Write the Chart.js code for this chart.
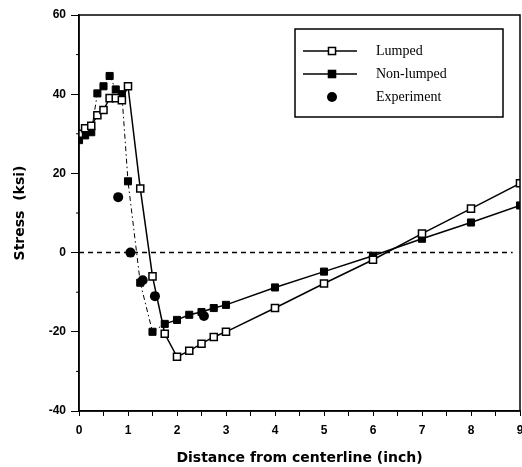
<!DOCTYPE html>
<html>
<head>
<meta charset="utf-8">
<script src="https://cdn.jsdelivr.net/npm/chart.js@4/dist/chart.umd.min.js"></script>
<style>
  html, body { margin: 0; padding: 0; background: #fff; overflow: hidden; }
  #wrap { width: 522px; height: 467px; position: relative; }
</style>
</head>
<body>
<div id="wrap"><canvas id="stressChart"></canvas></div>
<script>
// values
const xModel = [0, 0.125, 0.25, 0.375, 0.5, 0.625, 0.75, 0.875, 1, 1.25, 1.5, 1.75,
                2, 2.25, 2.5, 2.75, 3, 4, 5, 6, 7, 8, 9];
const lumped = [30, 31.4, 32, 34.7, 36, 39, 39, 38.5, 42, 16.2, -6, -20.5,
                -26.3, -24.8, -23, -21.3, -20, -14, -7.8, -1.8, 4.8, 11.1, 17.5];
const nonLumped = [28.4, 29.6, 30.4, 40.2, 42, 44.6, 41.2, 40, 18, -7.6, -20, -18,
                   -17, -15.7, -15, -14, -13.2, -8.8, -4.8, -0.8, 3.5, 7.6, 11.9];
const xExperiment = [0.8, 1.05, 1.3, 1.55, 2.55];
const experiment = [14, 0, -7, -11, -16];
const xZero = [0, 8.85];
const zeroLine = [0, 0];

const toPoints = (xs, ys) => xs.map((x, i) => ({ x: x, y: ys[i] }));

// frame round the plot + short minor ticks on the stress axis
const framePlugin = {
    id: 'frame',
    afterDraw(chart) {
        const { ctx, chartArea: a, scales } = chart;
        ctx.save();
        ctx.strokeStyle = '#000';
        ctx.lineWidth = 1.5;
        ctx.strokeRect(a.left, a.top, a.right - a.left, a.bottom - a.top);
        ctx.lineWidth = 1;
        scales.y.ticks.forEach(t => {
            if (t.value % 20 !== 0) {
                const py = scales.y.getPixelForValue(t.value);
                ctx.beginPath();
                ctx.moveTo(a.left - 3, py);
                ctx.lineTo(a.left, py);
                ctx.stroke();
            }
        });
        ctx.restore();
    }
};

// boxed legend in the upper right
const boxLegend = {
    id: 'boxLegend',
    afterDraw(chart) {
        const ctx = chart.ctx;
        ctx.save();
        ctx.strokeStyle = '#000';
        ctx.lineWidth = 1.5;
        ctx.strokeRect(295, 29, 208, 88);
        ctx.font = '14px "Liberation Serif"';
        ctx.textBaseline = 'middle';
        ctx.fillStyle = '#000';
        const items = chart.data.datasets.filter(d => d.label);
        items.forEach((d, i) => {
            const y = 51 + i * 23;
            if (d.showLine !== false) {
                ctx.lineWidth = 1.5;
                ctx.beginPath();
                ctx.moveTo(303, y);
                ctx.lineTo(357, y);
                ctx.stroke();
            }
            ctx.lineWidth = 1.5;
            ctx.fillStyle = d.pointBackgroundColor;
            if (d.pointStyle === 'circle') {
                ctx.beginPath();
                ctx.arc(332, y, d.pointRadius, 0, Math.PI * 2);
                ctx.fill();
            } else {
                const s = d.pointRadius * Math.SQRT1_2;
                ctx.fillRect(332 - s, y - s, 2 * s, 2 * s);
                ctx.strokeRect(332 - s, y - s, 2 * s, 2 * s);
            }
            ctx.fillStyle = '#000';
            ctx.fillText(d.label, 376, y);
        });
        ctx.restore();
    }
};

const ctx = document.getElementById('stressChart').getContext('2d');

new Chart(ctx, {
    type: 'scatter',
    data: {
        datasets: [
            {
                label: 'Lumped',
                data: toPoints(xModel, lumped),
                showLine: true,
                borderColor: '#000',
                borderWidth: 1.5,
                tension: 0,
                pointStyle: 'rect',
                pointRadius: 5,
                pointBackgroundColor: '#fff',
                pointBorderColor: '#000',
                pointBorderWidth: 1.5
            },
            {
                label: 'Non-lumped',
                data: toPoints(xModel, nonLumped),
                showLine: true,
                borderColor: '#000',
                borderWidth: 1.5,
                tension: 0,
                segment: {
                    borderDash: c => c.p0.parsed.x < 1.6 ? [5, 3, 1.5, 3] : undefined,
                    borderWidth: c => c.p0.parsed.x < 1.6 ? 1 : 1.5
                },
                pointStyle: 'rect',
                pointRadius: 5,
                pointBackgroundColor: '#000',
                pointBorderColor: '#000',
                pointBorderWidth: 1
            },
            {
                label: 'Experiment',
                data: toPoints(xExperiment, experiment),
                showLine: false,
                pointStyle: 'circle',
                pointRadius: 5,
                pointBackgroundColor: '#000',
                pointBorderColor: '#000',
                pointBorderWidth: 0
            },
            {
                label: '',
                data: toPoints(xZero, zeroLine),
                showLine: true,
                borderColor: '#000',
                borderWidth: 1.5,
                borderDash: [5, 4],
                pointRadius: 0
            }
        ]
    },
    options: {
        responsive: true,
        maintainAspectRatio: false,
        animation: false,
        layout: {
            autoPadding: false,
            padding: { top: 15, right: 2, left: 0, bottom: 0 }
        },
        plugins: {
            legend: { display: false },
            tooltip: { enabled: false }
        },
        scales: {
            x: {
                type: 'linear',
                min: 0,
                max: 9,
                afterFit: s => { s.height = 56; s.paddingLeft = 0; s.paddingRight = 0; },
                border: { color: '#000', width: 1.5 },
                grid: {
                    drawOnChartArea: false,
                    tickLength: 5,
                    tickColor: '#000'
                },
                ticks: {
                    stepSize: 0.5,
                    autoSkip: false,
                    maxRotation: 0,
                    padding: 7,
                    color: '#000',
                    font: { family: '"Liberation Sans"', size: 12, weight: 'bold' },
                    callback: v => Number.isInteger(v) ? String(v) : ''
                },
                title: {
                    display: true,
                    text: 'Distance from centerline (inch)',
                    color: '#000',
                    font: { family: '"DejaVu Sans"', size: 14, weight: 'bold' },
                    padding: { top: 0, bottom: 0 }
                }
            },
            y: {
                min: -40,
                max: 60,
                afterFit: s => { s.width = 79; s.paddingTop = 0; s.paddingBottom = 0; },
                border: { color: '#000', width: 1.5 },
                grid: {
                    drawOnChartArea: false,
                    tickLength: 8,
                    tickColor: c => c.tick && c.tick.value % 20 === 0 ? '#000' : 'rgba(0,0,0,0)'
                },
                ticks: {
                    stepSize: 10,
                    autoSkip: false,
                    padding: 5,
                    color: '#000',
                    font: { family: '"Liberation Sans"', size: 12, weight: 'bold' },
                    callback: v => v % 20 === 0 ? String(v) : ''
                },
                title: {
                    display: true,
                    text: 'Stress  (ksi)',
                    color: '#000',
                    font: { family: '"DejaVu Sans"', size: 14, weight: 'bold' },
                    padding: { top: 12, bottom: 0 }
                }
            }
        }
    },
    plugins: [framePlugin, boxLegend]
});
</script>
</body>
</html>
